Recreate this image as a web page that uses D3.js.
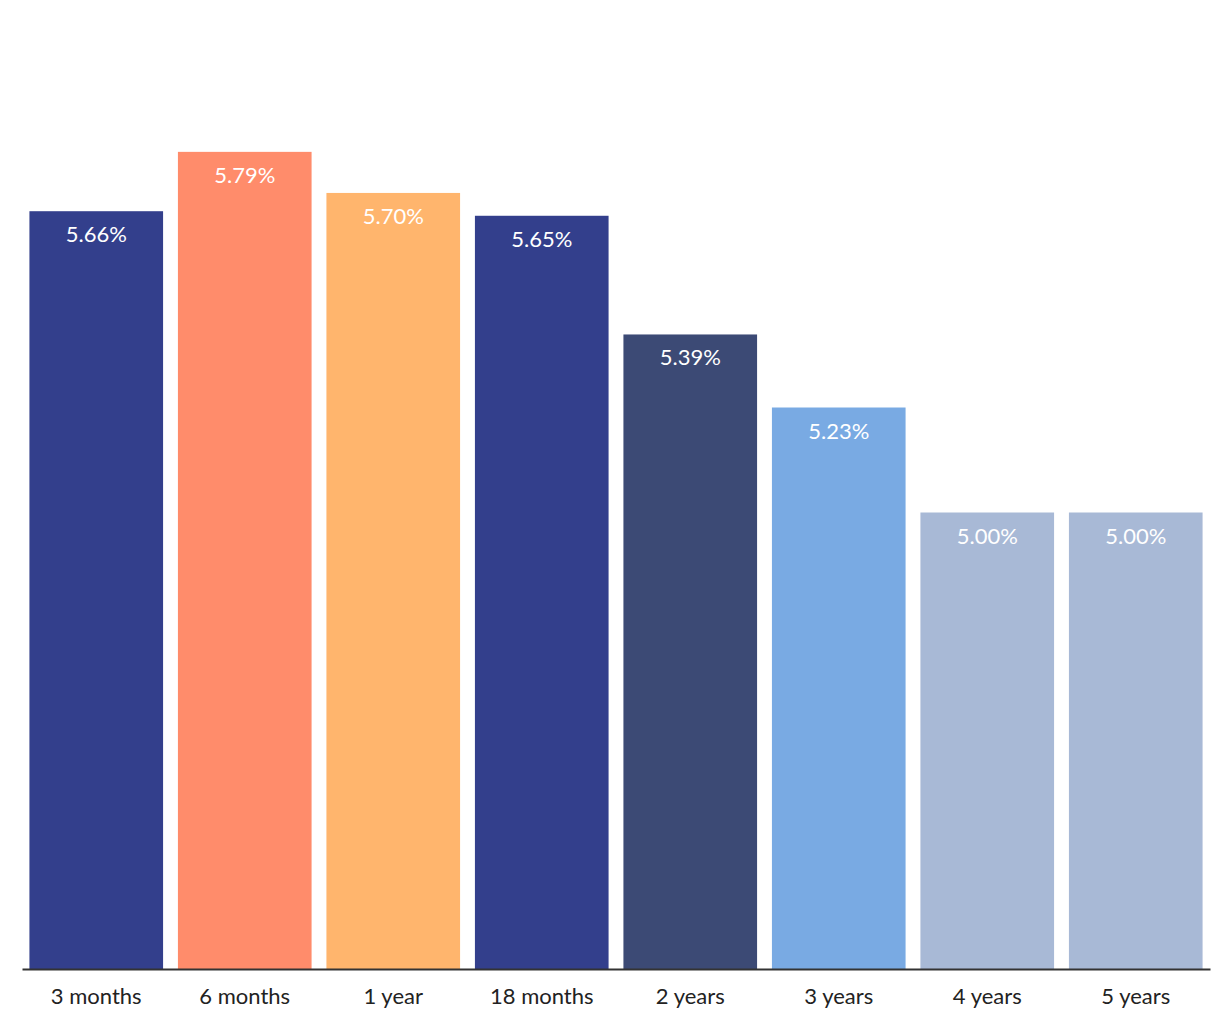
<!DOCTYPE html>
<html><head><meta charset="utf-8">
<script src="https://cdn.jsdelivr.net/npm/d3@7"></script>
<style>body{margin:0;background:#fff;} svg{display:block;font-family:"Source Sans Pro",Lato,"Noto Sans",sans-serif;}</style>
</head><body><svg id="c" width="1220" height="1020"></svg>
<script>
const categories = ["3 months","6 months","1 year","18 months","2 years","3 years","4 years","5 years"];
const rates = [5.66,5.79,5.70,5.65,5.39,5.23,5.00,5.00];
const barColors = ["#333F8C","#FF8C6B","#FFB56D","#333F8C","#3C4A75","#79AAE3","#A8B9D6","#A8B9D6"];
const yDomain = [4, 6];

const svg = d3.select("#c");
const x = d3.scaleBand().domain(categories).range([22,1210]).paddingInner(0.1).paddingOuter(0.05);
const y = d3.scaleLinear().domain(yDomain).range([969, 56]);

svg.selectAll("rect.bar").data(rates).join("rect").attr("class","bar")
  .attr("x",(d,i)=>x(categories[i])).attr("width",x.bandwidth())
  .attr("y",d=>y(d)).attr("height",d=>y(yDomain[0])-y(d))
  .attr("fill",(d,i)=>barColors[i]);

svg.selectAll("text.val").data(rates).join("text").attr("class","val")
  .attr("x",(d,i)=>x(categories[i])+x.bandwidth()/2).attr("y",d=>y(d)+31)
  .attr("text-anchor","middle").attr("fill","#fff").attr("font-size",22)
  .text(d=>d.toFixed(2)+"%");

const ax = svg.append("g").attr("transform","translate(0,969)")
  .call(d3.axisBottom(x).tickSize(0).tickPadding(19));
ax.select(".domain").attr("stroke","#333").attr("stroke-width",2);
ax.selectAll("text").attr("font-size",22).attr("fill","#222").attr("font-family",'"Source Sans Pro",Lato,"Noto Sans",sans-serif');
</script></body></html>
